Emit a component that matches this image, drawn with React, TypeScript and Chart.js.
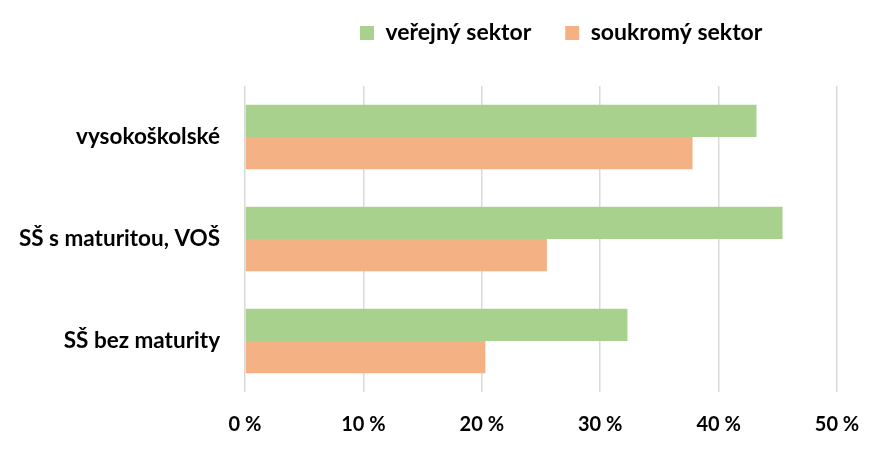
import React, { useEffect, useRef } from "react";
import { Chart, registerables, ChartConfiguration, Plugin } from "chart.js";

Chart.register(...registerables);

const categories = ["vysokoškolské", "SŠ s maturitou, VOŠ", "SŠ bez maturity"];
const publicSector = [43.2, 45.4, 32.3];
const privateSector = [37.8, 25.5, 20.3];
const seriesLabels = ["veřejný sektor", "soukromý sektor"];
const seriesColors = ["#a9d18e", "#f4b183"];

const FONT = "Lato, 'Open Sans', sans-serif";
const LEGEND_PAD = 34;

// place the legend above the plot like in the original (not centred on the canvas)
const legendShift: Plugin = {
  id: "legendShift",
  afterLayout(chart) {
    const lg: any = (chart as any).legend;
    if (!lg) return;
    lg.left = 360 - LEGEND_PAD;
    lg.top = 33 - LEGEND_PAD - 11.5;
  },
};

const App: React.FC = () => {
  const chartRef = useRef<HTMLCanvasElement>(null);
  const chartInstance = useRef<Chart | null>(null);

  useEffect(() => {
    if (!chartRef.current) return;
    if (chartInstance.current) chartInstance.current.destroy();
    const ctx = chartRef.current.getContext("2d");
    if (!ctx) return;

    const config: ChartConfiguration = {
      type: "bar",
      data: {
        labels: categories,
        datasets: [
          {
            label: seriesLabels[0],
            data: publicSector,
            backgroundColor: seriesColors[0],
            borderWidth: 0,
            categoryPercentage: 0.634,
            barPercentage: 1,
          },
          {
            label: seriesLabels[1],
            data: privateSector,
            backgroundColor: seriesColors[1],
            borderWidth: 0,
            categoryPercentage: 0.634,
            barPercentage: 1,
          },
        ],
      },
      options: {
        indexAxis: "y",
        animation: false,
        responsive: false,
        maintainAspectRatio: false,
        layout: { padding: { top: 19, right: 44, bottom: 0, left: 0 } },
        plugins: {
          tooltip: { enabled: false },
          legend: {
            position: "top",
            align: "start",
            labels: {
              boxWidth: 14,
              boxHeight: 14,
              padding: LEGEND_PAD,
              color: "#000",
              font: { family: FONT, size: 23, weight: "bold" },
            },
          },
        },
        scales: {
          x: {
            min: 0,
            max: 50,
            ticks: {
              stepSize: 10,
              padding: 21,
              color: "#000",
              font: { family: FONT, size: 20, weight: "bold" },
              callback: (v) => `${v}\u00a0%`,
            },
            grid: { color: "#d9d9d9", lineWidth: 1.5, drawTicks: false },
            border: { display: false },
            afterFit: (scale) => {
              scale.height = 58;
            },
          },
          y: {
            ticks: {
              padding: 17,
              color: "#000",
              font: { family: FONT, size: 22.5, weight: "bold" },
            },
            grid: { display: false },
            border: { display: false },
            afterFit: (scale) => {
              scale.width = 245;
            },
          },
        },
      },
      plugins: [legendShift],
    };

    chartInstance.current = new Chart(ctx, config);
    return () => {
      if (chartInstance.current) chartInstance.current.destroy();
    };
  }, []);

  return (
    <div style={{ position: "absolute", left: 0, top: 0, width: 881, height: 450, background: "#fff" }}>
      <canvas ref={chartRef} width={881} height={450} />
    </div>
  );
};

export default App;
